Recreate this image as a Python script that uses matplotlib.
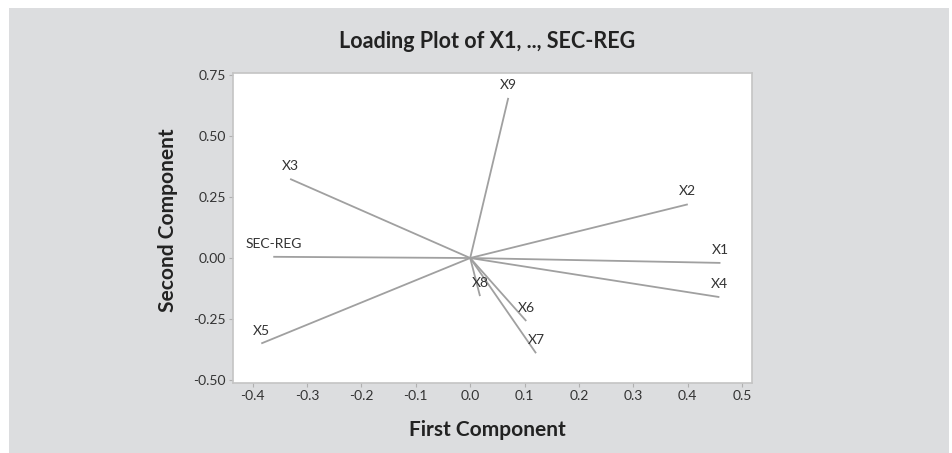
import matplotlib
matplotlib.use("Agg")
import matplotlib.pyplot as plt
from matplotlib.patches import Rectangle

# loadings
names = ["X1", "X2", "X3", "X4", "X5", "X6", "X7", "X8", "X9", "SEC-REG"]
pc1 = [0.460, 0.400, -0.331, 0.458, -0.384, 0.103, 0.121, 0.018, 0.070, -0.362]
pc2 = [-0.020, 0.220, 0.324, -0.160, -0.350, -0.258, -0.390, -0.156, 0.656, 0.005]

xticks = [-0.4, -0.3, -0.2, -0.1, 0.0, 0.1, 0.2, 0.3, 0.4, 0.5]
yticks = [-0.50, -0.25, 0.00, 0.25, 0.50, 0.75]

plt.rcParams['font.family'] = ['Lato', 'DejaVu Sans']

fig = plt.figure(figsize=(9.53, 4.53), dpi=100)
fig.patch.set_facecolor('white')
fig.patches.append(Rectangle((9 / 953, 0), 940 / 953, 445 / 453,
                             transform=fig.transFigure, facecolor='#dcdddf',
                             edgecolor='none', zorder=-10))

ax = fig.add_axes([233 / 953, 70 / 453, 519 / 953, 310 / 453])
ax.set_facecolor('white')

for n, x, y in zip(names, pc1, pc2):
    ax.plot([0, x], [0, y], color='#a0a0a0', lw=1.3, solid_capstyle='butt')
    ax.annotate(n, (x, y), xytext=(0, 5), textcoords='offset points',
                ha='center', va='bottom', fontsize=10, color='#333333')

ax.set_xlim(-0.436, 0.518)
ax.set_ylim(-0.512, 0.758)
ax.set_xticks(xticks)
ax.set_xticklabels(["%.1f" % t for t in xticks])
ax.set_yticks(yticks)
ax.set_yticklabels(["%.2f" % t for t in yticks])
ax.tick_params(length=3, width=0.8, color='#b0b0b0', labelsize=10,
               labelcolor='#333333', pad=2)
for s in ax.spines.values():
    s.set_color('#c4c4c4')
    s.set_linewidth(1.2)

fig.text(487 / 953, 1 - 42 / 453, "Loading Plot of X1, .., SEC-REG",
         ha='center', va='center', fontsize=15.5, fontweight='bold', color='#222222')
fig.text(487 / 953, 1 - 430 / 453, "First Component",
         ha='center', va='center', fontsize=15, fontweight='bold', color='#222222')
fig.text(168 / 953, 1 - 220 / 453, "Second Component", rotation=90,
         ha='center', va='center', fontsize=15, fontweight='bold', color='#222222')

fig.savefig("out.png", dpi=100)
